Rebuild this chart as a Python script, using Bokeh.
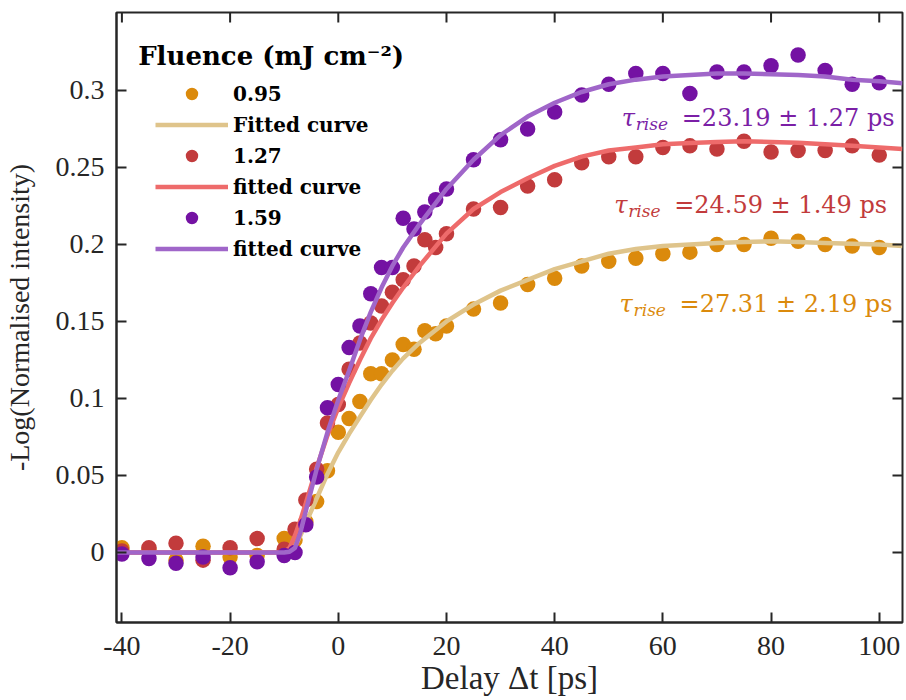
import math
from bokeh.plotting import figure
from bokeh.models import Range1d, FixedTicker, Legend, LegendItem, Label
from bokeh.embed import file_html
from bokeh.resources import INLINE

# ---------------- data ----------------
delay = [-40, -35, -30, -25, -20, -15, -10, -8, -6, -4, -2, 0, 2, 4, 6, 8, 10, 12, 14, 16, 18, 20,
         25, 30, 35, 40, 45, 50, 55, 60, 65, 70, 75, 80, 85, 90, 95, 100]

f095 = [0.003, 0.002, -0.005, 0.004, -0.003, -0.002, 0.009, 0.008, 0.020, 0.033, 0.053, 0.078,
        0.087, 0.098, 0.116, 0.116, 0.125, 0.135, 0.132, 0.144, 0.142, 0.147,
        0.158, 0.162, 0.174, 0.178, 0.186, 0.189, 0.191, 0.194, 0.195, 0.200, 0.200, 0.204,
        0.202, 0.200, 0.199, 0.198]
f127 = [0.001, 0.003, 0.006, -0.005, 0.003, 0.009, 0.002, 0.015, 0.034, 0.054, 0.084, 0.096,
        0.119, 0.136, 0.149, 0.160, 0.169, 0.177, 0.186, 0.203, 0.198, 0.207,
        0.223, 0.224, 0.238, 0.242, 0.253, 0.257, 0.257, 0.263, 0.264, 0.262, 0.267, 0.260,
        0.261, 0.261, 0.264, 0.258]
f159 = [-0.001, -0.004, -0.007, -0.003, -0.010, -0.006, -0.002, 0.000, 0.018, 0.049, 0.094, 0.109,
        0.133, 0.147, 0.168, 0.185, 0.185, 0.217, 0.210, 0.221, 0.229, 0.236,
        0.255, 0.268, 0.275, 0.286, 0.297, 0.304, 0.311, 0.311, 0.298, 0.312, 0.312, 0.316,
        0.323, 0.313, 0.304, 0.305]

fit_x = [-41, -10, -9, -8, -7, -6, -4, -2, 0, 2, 4, 6, 8, 10, 12, 15, 20, 25, 30, 35, 40, 45,
         50, 55, 60, 65, 70, 75, 80, 85, 90, 95, 100, 104.3]
fit095 = [0, 0, 0.0005, 0.004, 0.011, 0.019, 0.035, 0.051, 0.065, 0.077, 0.088, 0.099, 0.109,
          0.118, 0.126, 0.136, 0.150, 0.161, 0.170, 0.177, 0.184, 0.189, 0.194, 0.197, 0.199,
          0.200, 0.201, 0.2015, 0.202, 0.2015, 0.201, 0.2005, 0.200, 0.199]
fit127 = [0, 0, 0.003, 0.011, 0.021, 0.032, 0.055, 0.076, 0.094, 0.110, 0.125, 0.139, 0.151,
          0.162, 0.172, 0.186, 0.207, 0.223, 0.234, 0.243, 0.251, 0.257, 0.261, 0.263, 0.265,
          0.2658, 0.2665, 0.267, 0.2665, 0.266, 0.265, 0.264, 0.263, 0.262]
fit159 = [0, 0, 0.0005, 0.003, 0.013, 0.027, 0.054, 0.078, 0.099, 0.118, 0.138, 0.156, 0.172,
          0.186, 0.198, 0.213, 0.236, 0.255, 0.271, 0.283, 0.292, 0.299, 0.304, 0.307, 0.309,
          0.310, 0.311, 0.311, 0.3105, 0.310, 0.309, 0.307, 0.306, 0.3047]

fluences = ["0.95", "1.27", "1.59"]
fit_names = ["Fitted curve", "fitted curve", "fitted curve"]
tau_texts = ["=27.31 \u00b1 2.19 ps", "=24.59 \u00b1 1.49 ps", "=23.19 \u00b1 1.27 ps"]

x_ticks = [-40, -20, 0, 20, 40, 60, 80, 100]
x_tick_labels = ["-40", "-20", "0", "20", "40", "60", "80", "100"]
y_ticks = [0, 0.05, 0.1, 0.15, 0.2, 0.25, 0.3]
y_tick_labels = ["0", "0.05", "0.1", "0.15", "0.2", "0.25", "0.3"]

# ---------------- styling ----------------
dot_colors = ["#DB8A0C", "#C23B3C", "#7412A3"]
line_colors = ["#DFC48B", "#EE6B6B", "#A066C9"]
text_colors = ["#DB8A0C", "#C23B3C", "#7B1FA6"]
AX = "#262626"
SERIF = "Liberation Serif"
DV = "DejaVu Serif"
X0, X1 = -41, 104.3
Y0, Y1 = -0.0455, 0.3506

p = figure(width=906, height=700, output_backend="svg", toolbar_location=None,
           x_range=Range1d(X0, X1), y_range=Range1d(Y0, Y1),
           min_border_left=114, min_border_right=4, min_border_top=12, min_border_bottom=78)
p.xgrid.visible = False
p.ygrid.visible = False
p.outline_line_color = AX
p.outline_line_width = 2
p.background_fill_color = "white"
p.border_fill_color = "white"

series = [f095, f127, f159]
fits = [fit095, fit127, fit159]
items = []
for i in range(3):
    r_d = p.scatter(delay, series[i], size=15.5, color=dot_colors[i], line_color=None)
    r_l = p.line(fit_x, fits[i], line_width=4.5, color=line_colors[i])
    items.append(LegendItem(label=fluences[i], renderers=[r_d]))
    items.append(LegendItem(label=fit_names[i], renderers=[r_l]))

# inward ticks on the top and right frame edges (box on), placed at the tick values
p.scatter(x_ticks, [Y1] * len(x_ticks), marker="dash", angle=math.pi / 2, size=20,
          line_color=AX, line_width=2)
p.scatter([X1] * len(y_ticks), y_ticks, marker="dash", size=20, line_color=AX, line_width=2)

def style_axis(ax, font_size, label_size):
    ax.axis_line_color = AX
    ax.axis_line_width = 2
    ax.major_tick_line_color = AX
    ax.major_tick_line_width = 2
    ax.major_tick_in = 10
    ax.major_tick_out = 0
    ax.minor_tick_line_color = None
    ax.major_label_text_font = SERIF
    ax.major_label_text_font_size = font_size
    ax.major_label_text_color = AX
    ax.axis_label_text_font = SERIF
    ax.axis_label_text_font_size = label_size
    ax.axis_label_text_font_style = "normal"
    ax.axis_label_text_color = AX

xax = p.xaxis[0]
yax = p.yaxis[0]
xax.ticker = FixedTicker(ticks=x_ticks)
yax.ticker = FixedTicker(ticks=y_ticks)
xax.major_label_overrides = dict(zip(x_ticks, x_tick_labels))
yax.major_label_overrides = dict(zip(y_ticks, y_tick_labels))
xax.axis_label = "Delay \u0394t [ps]"
yax.axis_label = "-Log(Normalised intensity)"
style_axis(xax, "28px", "33px")
style_axis(yax, "28px", "28px")
xax.major_label_standoff = 14
xax.axis_label_standoff = 2
yax.major_label_standoff = 12
yax.axis_label_standoff = 18

legend = Legend(items=items, location=(39, 358))
legend.border_line_color = None
legend.background_fill_alpha = 0
legend.label_text_font = DV
legend.label_text_font_style = "bold"
legend.label_text_font_size = "20px"
legend.label_text_color = "black"
legend.glyph_width = 73
legend.glyph_height = 31
legend.label_height = 31
legend.label_standoff = 5
legend.spacing = 0
legend.padding = 0
legend.margin = 0
p.add_layout(legend)

p.add_layout(Label(x=-37.0, y=0.3225, text="Fluence (mJ cm\u207b\u00b2)", text_font=DV,
                   text_font_style="bold", text_font_size="26px", text_color="black",
                   text_baseline="alphabetic"))

# tau annotations (x, baseline y in data units)
tau_pos = [(52.0, 0.1612), (51.0, 0.2255), (52.4, 0.282)]
for i in range(3):
    tx, ty = tau_pos[i]
    p.add_layout(Label(x=tx, y=ty, text="\u03c4", text_font=DV, text_font_style="italic",
                       text_font_size="24px", text_color=text_colors[i], text_baseline="alphabetic"))
    p.add_layout(Label(x=tx, y=ty, x_offset=14, y_offset=-6, text="rise", text_font=DV,
                       text_font_style="italic", text_font_size="17px", text_color=text_colors[i],
                       text_baseline="alphabetic"))
    p.add_layout(Label(x=tx, y=ty, x_offset=60, text=tau_texts[i], text_font=DV,
                       text_font_size="24px", text_color=text_colors[i], text_baseline="alphabetic"))

open("out.html", "w").write(file_html(p, INLINE))
